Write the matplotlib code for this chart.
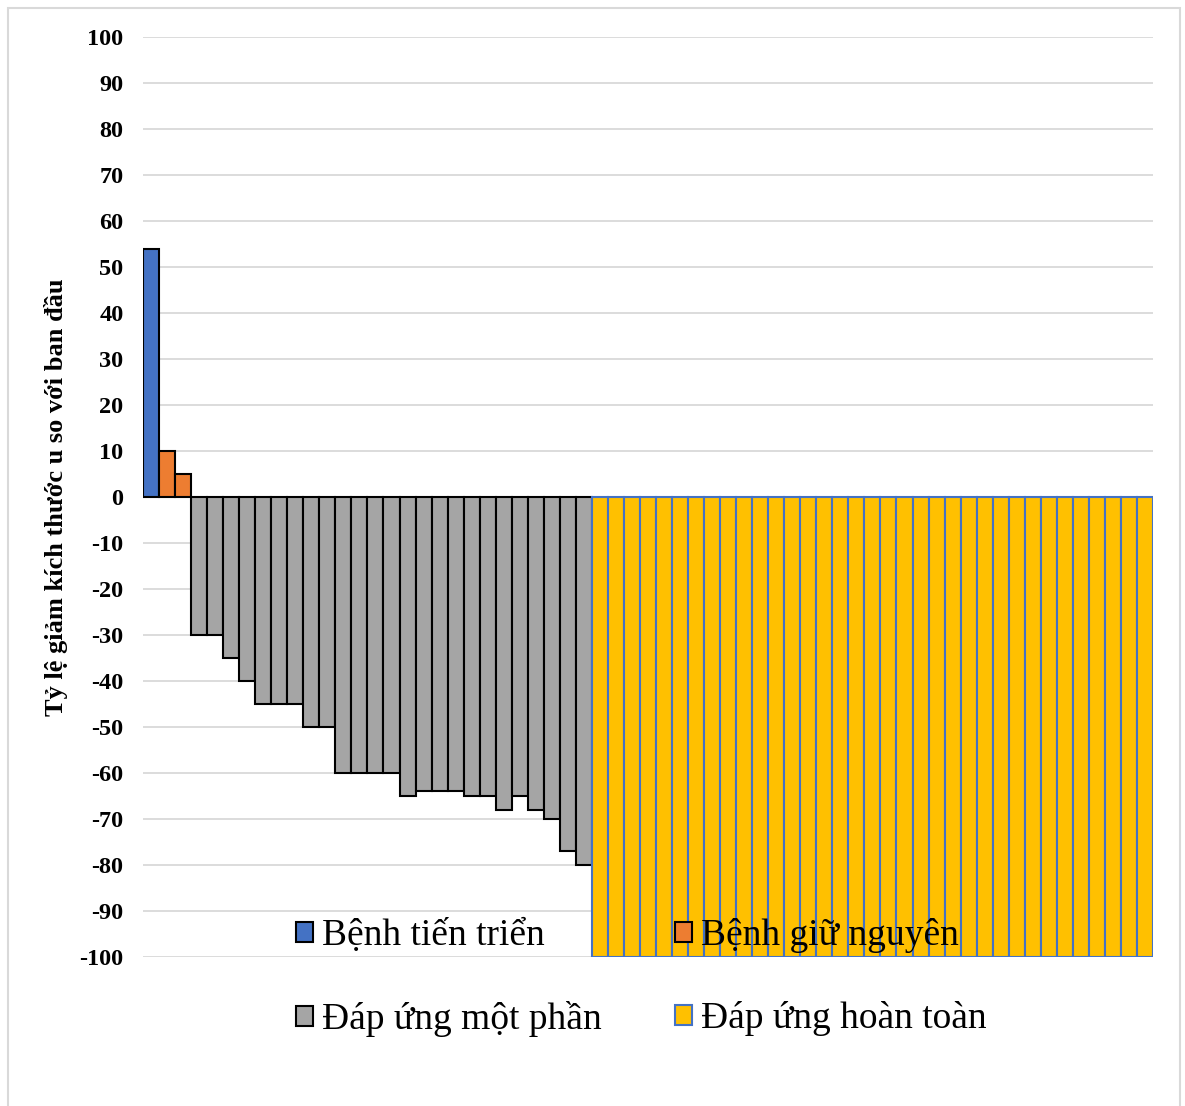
import matplotlib.pyplot as plt
from matplotlib.patches import Patch, Rectangle

plt.rcParams['font.family'] = ['Liberation Serif', 'DejaVu Serif']
plt.rcParams['axes.unicode_minus'] = False

# giá trị từng bệnh nhân (%)
progressive = [54]
stable = [10, 5]
partial = [-30, -30, -35, -40, -45, -45, -45, -50, -50,
           -60, -60, -60, -60, -65, -64, -64, -64, -65, -65,
           -68, -65, -68, -70, -77, -80]
complete = [-100] * 35

labels = ['Bệnh tiến triển', 'Bệnh giữ nguyên', 'Đáp ứng một phần', 'Đáp ứng hoàn toàn']
colors = ['#4472C4', '#ED7D31', '#A5A5A5', '#FFC000']
edges = ['black', 'black', 'black', '#4472C4']
yticks = list(range(-100, 101, 10))

fig = plt.figure(figsize=(11.85, 11.06), dpi=100)
ax = fig.add_axes([143 / 1185, 149 / 1106, 1010 / 1185, 920 / 1106])

groups = [progressive, stable, partial, complete]
start = 0
for vals, c, e in zip(groups, colors, edges):
    xs = list(range(start, start + len(vals)))
    ax.bar(xs, vals, width=1.0, color=c, edgecolor=e, linewidth=1.5, zorder=3)
    start += len(vals)

ax.set_xlim(-0.5, start - 0.5)
ax.set_ylim(-100, 100)
ax.set_yticks(yticks)
ax.set_xticks([])
ax.grid(axis='y', color='#D9D9D9', linewidth=1.3, zorder=0)
for s in ax.spines.values():
    s.set_visible(False)
ax.tick_params(axis='y', length=0, labelsize=17.5, pad=14)
for t in ax.get_yticklabels():
    t.set_fontweight('bold')
ax.set_ylabel('Tỷ lệ giảm kích thước u so với ban đầu', fontsize=19,
              fontweight='bold', labelpad=8)

# sắp xếp để legend đọc theo hàng
order = [0, 2, 1, 3]
handles = [Patch(facecolor=colors[i], edgecolor=edges[i], linewidth=1.5) for i in order]
fig.legend(handles, [labels[i] for i in order], loc='center',
           bbox_to_anchor=(0.5413, 0.116), ncol=2,
           frameon=False, fontsize=27, handlelength=0.45, handleheight=0.45,
           handletextpad=0.24, columnspacing=1.95, labelspacing=1.28)

fig.patches.append(Rectangle((8 / 1185, -0.05), 1172 / 1185, 1.05 - 8 / 1106,
                             transform=fig.transFigure, fill=False,
                             edgecolor='#D9D9D9', linewidth=1.5))

fig.savefig('out.png', dpi=100)
